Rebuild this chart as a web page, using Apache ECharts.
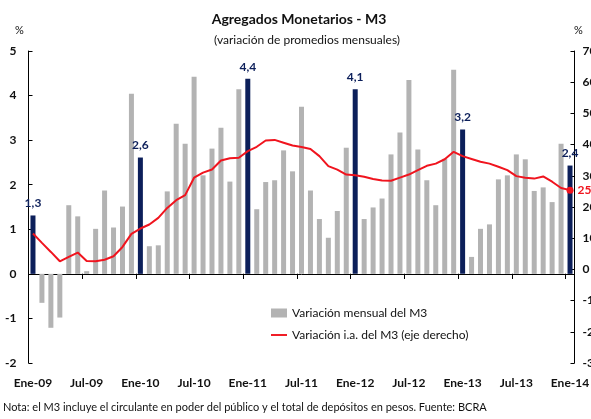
<!DOCTYPE html>
<html>
<head>
<meta charset="utf-8">
<script src="https://cdn.jsdelivr.net/npm/echarts@6/dist/echarts.min.js"></script>
<style>
    html, body {margin: 0; padding: 0; background: #fff;}
    #chart_m3 {width: 591px; height: 419px;}
</style>
</head>
<body>
<div id="chart_m3"></div>
<script>
// meses del eje (Ene-09 ... Ene-14)
var meses = ['Ene', 'Feb', 'Mar', 'Abr', 'May', 'Jun', 'Jul', 'Ago', 'Sep', 'Oct', 'Nov', 'Dic'];
var categorias = [];
for (var a = 9; a <= 14; a++) {
    for (var m = 0; m < 12; m++) {
        if (a === 14 && m > 0) break;
        categorias.push(meses[m] + '-' + (a < 10 ? '0' + a : a));
    }
}

// variacion mensual del M3 (%), eje izquierdo
var mensual = [
    1.31, -0.65, -1.21, -0.98, 1.54, 1.29, 0.06, 1.01, 1.87, 1.04, 1.51, 4.04,
    2.61, 0.62, 0.64, 1.85, 3.37, 2.92, 4.42, 2.21, 2.81, 3.28, 2.07, 4.14,
    4.38, 1.45, 2.06, 2.10, 2.77, 2.30, 3.75, 1.87, 1.23, 0.81, 1.41, 2.83,
    4.14, 1.23, 1.49, 1.69, 2.68, 3.17, 4.35, 2.79, 2.10, 1.54, 2.58, 4.58,
    3.24, 0.38, 1.01, 1.11, 2.12, 2.21, 2.68, 2.57, 1.86, 1.94, 1.61, 2.92,
    2.43
];

// variacion interanual del M3 (%), eje derecho
var interanual = [
    11.5, 8.5, 5.6, 2.6, 4.0, 5.4, 2.7, 2.6, 3.1, 4.2, 7.2, 11.4,
    13.1, 14.4, 16.5, 19.7, 22.2, 23.8, 29.4, 31.0, 32.0, 34.9, 35.6, 35.8,
    37.9, 39.3, 41.3, 41.5, 40.6, 39.7, 39.2, 38.6, 36.3, 33.1, 32.0, 30.4,
    30.2, 29.7, 29.0, 28.5, 28.4, 29.4, 30.4, 31.8, 33.2, 33.9, 35.3, 37.7,
    36.3, 35.4, 34.5, 33.9, 32.9, 31.8, 29.9, 29.4, 29.1, 29.8, 28.1, 26.1,
    25.4
];

var ejeIzq = {min: -2, max: 5, interval: 1};
var ejeDer = {min: -30, max: 70, interval: 10};

var gris = '#b3b3b3';
var azul = '#0c1f5a';
var rojo = '#f0141e';
var fuente = 'Lato';

// barras: los eneros van en azul con su valor arriba
var barras = mensual.map(function (v, i) {
    if (categorias[i].indexOf('Ene') === 0) {
        return {
            value: v,
            itemStyle: {color: azul},
            label: {
                show: true, position: 'top', distance: 6,
                color: azul, fontWeight: 'bold', fontSize: 12, fontFamily: fuente,
                formatter: function (p) { return p.value.toFixed(1).replace('.', ','); }
            }
        };
    }
    return {value: v};
});

// linea: solo el ultimo punto con marca y etiqueta
var linea = interanual.map(function (v, i) {
    if (i === interanual.length - 1) {
        return {
            value: v,
            symbol: 'circle', symbolSize: 7,
            label: {
                show: true, position: 'right', distance: 4,
                color: rojo, fontWeight: 'bold', fontSize: 12, fontFamily: fuente,
                formatter: function (p) { return Math.round(p.value); }
            }
        };
    }
    return {value: v, symbol: 'none'};
});

var myChart = echarts.init(document.getElementById('chart_m3'));

var option = {
    animation: false,
    textStyle: {fontFamily: fuente},
    title: [{
        text: 'Agregados Monetarios - M3',
        left: 294, top: 7, textAlign: 'center',
        textStyle: {fontSize: 14, fontWeight: 'bold', color: '#111', fontFamily: fuente}
    }, {
        text: '(variación de promedios mensuales)',
        left: 302, top: 29, textAlign: 'center',
        textStyle: {fontSize: 12, fontWeight: 'normal', color: '#111', fontFamily: fuente}
    }],
    graphic: [
        {type: 'text', left: 15, top: 25, style: {text: '%', fontSize: 11, fill: '#111', fontFamily: fuente}},
        {type: 'text', left: 574, top: 25, style: {text: '%', fontSize: 11, fill: '#111', fontFamily: fuente}},
        {type: 'text', left: 3, top: 402, style: {
            text: 'Nota: el M3 incluye el circulante en poder del público y el total de depósitos en pesos. Fuente: BCRA',
            fontSize: 11, fill: '#111', fontFamily: fuente
        }}
    ],
    legend: {
        orient: 'vertical',
        left: 266, top: 302,
        itemWidth: 16, itemHeight: 9, itemGap: 10,
        textStyle: {fontSize: 12, color: '#111', fontFamily: fuente},
        data: [
            {name: 'Variación mensual del M3', icon: 'rect'},
            {name: 'Variación i.a. del M3 (eje derecho)', icon: 'path://M0,0 L20,0 L20,2.4 L0,2.4 Z'}
        ]
    },
    // el recuadro no se achica por las etiquetas (las del eje derecho quedan cortadas)
    grid: {left: 28.5, right: 16.5, top: 51, bottom: 56, containLabel: false, outerBoundsMode: 'none'},
    xAxis: [{
        // eje sobre el cero, marcas hacia abajo
        type: 'category', data: categorias, boundaryGap: true,
        axisLine: {onZero: true, onZeroAxisIndex: 0, lineStyle: {color: '#000', width: 1}},
        axisTick: {show: true, length: 5, interval: 5, lineStyle: {color: '#000'}},
        axisLabel: {show: false}
    }, {
        // solo las etiquetas de meses abajo
        type: 'category', data: categorias, boundaryGap: true, position: 'bottom',
        axisLine: {show: false, onZero: false},
        axisTick: {show: false},
        axisLabel: {
            show: true, margin: 14, fontSize: 12, fontWeight: 'bold', color: '#111', fontFamily: fuente,
            interval: function (i) { return i % 6 === 0; }
        }
    }, {
        // marcas hacia arriba sobre el cero
        type: 'category', data: categorias, boundaryGap: true,
        axisLine: {show: false, onZero: true, onZeroAxisIndex: 0},
        axisTick: {show: true, inside: true, length: 5, interval: 5, lineStyle: {color: '#000'}},
        axisLabel: {show: false}
    }],
    yAxis: [{
        type: 'value', position: 'left',
        min: ejeIzq.min, max: ejeIzq.max, interval: ejeIzq.interval,
        axisLine: {show: true, lineStyle: {color: '#000'}},
        axisTick: {show: true, inside: true, length: 4, lineStyle: {color: '#000'}},
        splitLine: {show: false},
        axisLabel: {margin: 12, fontSize: 12, fontWeight: 'bold', color: '#111', fontFamily: fuente}
    }, {
        type: 'value', position: 'right',
        min: ejeDer.min, max: ejeDer.max, interval: ejeDer.interval,
        axisLine: {show: true, lineStyle: {color: '#000'}},
        axisTick: {show: true, inside: true, length: 4, lineStyle: {color: '#000'}},
        splitLine: {show: false},
        axisLabel: {margin: 8, fontSize: 12, fontWeight: 'bold', color: '#111', fontFamily: fuente}
    }],
    series: [{
        name: 'Variación mensual del M3',
        type: 'bar',
        xAxisIndex: 0, yAxisIndex: 0,
        barWidth: 5,
        itemStyle: {color: gris},
        data: barras
    }, {
        name: 'Variación i.a. del M3 (eje derecho)',
        type: 'line',
        xAxisIndex: 0, yAxisIndex: 1,
        showAllSymbol: true,
        clip: false,
        itemStyle: {color: rojo},
        lineStyle: {color: rojo, width: 2},
        z: 5,
        data: linea
    }]
};

myChart.setOption(option);
</script>
</body>
</html>
